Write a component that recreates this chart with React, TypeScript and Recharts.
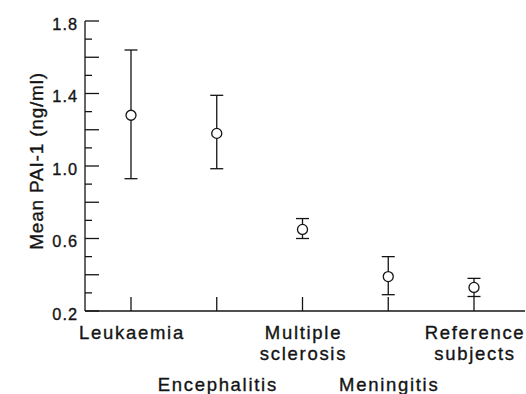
import React from 'react';
import { ComposedChart, Line, ErrorBar, XAxis, YAxis } from 'recharts';

const categories = ['Leukaemia', 'Encephalitis', 'Multiple sclerosis', 'Meningitis', 'Reference subjects'];
const categoryLabelLines = [['Leukaemia'], ['Encephalitis'], ['Multiple', 'sclerosis'], ['Meningitis'], ['Reference', 'subjects']];
const meanValues = [1.28, 1.18, 0.65, 0.39, 0.33];
const lowerValues = [0.93, 0.985, 0.6, 0.29, 0.28];
const upperValues = [1.64, 1.39, 0.71, 0.5, 0.38];
const yTicks = [0.2, 0.3, 0.4, 0.5, 0.6, 0.7, 0.8, 0.9, 1.0, 1.1, 1.2, 1.3, 1.4, 1.5, 1.6, 1.7, 1.8];
const yMajorTicks = [0.2, 0.4, 0.6, 0.8, 1.0, 1.2, 1.4, 1.6, 1.8];
const yLabeledTicks = [0.2, 0.6, 1.0, 1.4, 1.8];
const yAxisTitle = 'Mean PAI-1 (ng/ml)';

const data = categories.map((name, i) => ({
  name,
  mean: meanValues[i],
  err: [meanValues[i] - lowerValues[i], upperValues[i] - meanValues[i]],
}));

const INK = '#141414';
const FONT = '"Liberation Sans", Arial, Helvetica, sans-serif';

const has = (arr: number[], v: number) => arr.some((t) => t.toFixed(1) === v.toFixed(1));

const YTick = (props: any) => {
  const { x, y, payload } = props;
  const v = payload.value as number;
  const major = has(yMajorTicks, v);
  const labeled = has(yLabeledTicks, v);
  return (
    <g>
      <line x1={x} x2={x + (major ? 14 : 7)} y1={y} y2={y} stroke={INK} strokeWidth={1.3} />
      {labeled && (
        <text x={x - 7} y={y} dy={8.5} textAnchor="end" fill={INK} stroke={INK} strokeWidth={0.35} fontFamily={FONT} fontSize={16.3} letterSpacing={1}>
          {v.toFixed(1)}
        </text>
      )}
    </g>
  );
};

const XTick = (props: any) => {
  const { x, y, index } = props;
  const lines = categoryLabelLines[index] || [];
  const base = y + (index % 2 === 0 ? 28 : 80);
  return (
    <g>
      <line x1={x} x2={x} y1={y} y2={y - 14} stroke={INK} strokeWidth={1.3} />
      <text textAnchor="middle" fill={INK} stroke={INK} strokeWidth={0.35} fontFamily={FONT} fontSize={18.5} letterSpacing={1.7}>
        {lines.map((l: string, i: number) => (
          <tspan key={i} x={x + 1} y={base + i * 21}>
            {l}
          </tspan>
        ))}
      </text>
    </g>
  );
};

const YTitle = (props: any) => {
  const vb = props.viewBox || { x: 0, y: 21, width: 85, height: 290 };
  const cx = vb.x + 36;
  const cy = vb.y + vb.height / 2 - 5;
  return (
    <text
      x={cx}
      y={cy}
      transform={`rotate(-90 ${cx} ${cy})`}
      textAnchor="middle"
      dominantBaseline="central"
      fill={INK}
      stroke={INK}
      strokeWidth={0.35}
      fontFamily={FONT}
      fontSize={19}
      letterSpacing={0.8}
    >
      {yAxisTitle}
    </text>
  );
};

export default function App() {
  return (
    <div style={{ position: 'absolute', left: 0, top: 0, width: 526, height: 394, background: '#fff' }}>
      <ComposedChart width={526} height={394} data={data} margin={{ top: 21, right: 1, bottom: 0, left: 0 }}>
        <XAxis
          dataKey="name"
          type="category"
          interval={0}
          height={83}
          padding={{ left: 46, right: 51 }}
          tickSize={0}
          tickMargin={0}
          tickLine={false}
          axisLine={{ stroke: INK, strokeWidth: 1.3 }}
          tick={<XTick />}
        />
        <YAxis
          type="number"
          domain={[0.2, 1.8]}
          ticks={yTicks}
          interval={0}
          width={85}
          tickSize={0}
          tickMargin={0}
          tickLine={false}
          axisLine={{ stroke: INK, strokeWidth: 1.3 }}
          tick={<YTick />}
          label={<YTitle />}
          allowDataOverflow
        />
        <Line
          dataKey="mean"
          stroke="none"
          isAnimationActive={false}
          dot={{ r: 5, fill: '#fff', stroke: INK, strokeWidth: 1.3 }}
          activeDot={false}
        >
          <ErrorBar dataKey="err" width={6.5} stroke={INK} strokeWidth={1.3} direction="y" />
        </Line>
      </ComposedChart>
    </div>
  );
}
